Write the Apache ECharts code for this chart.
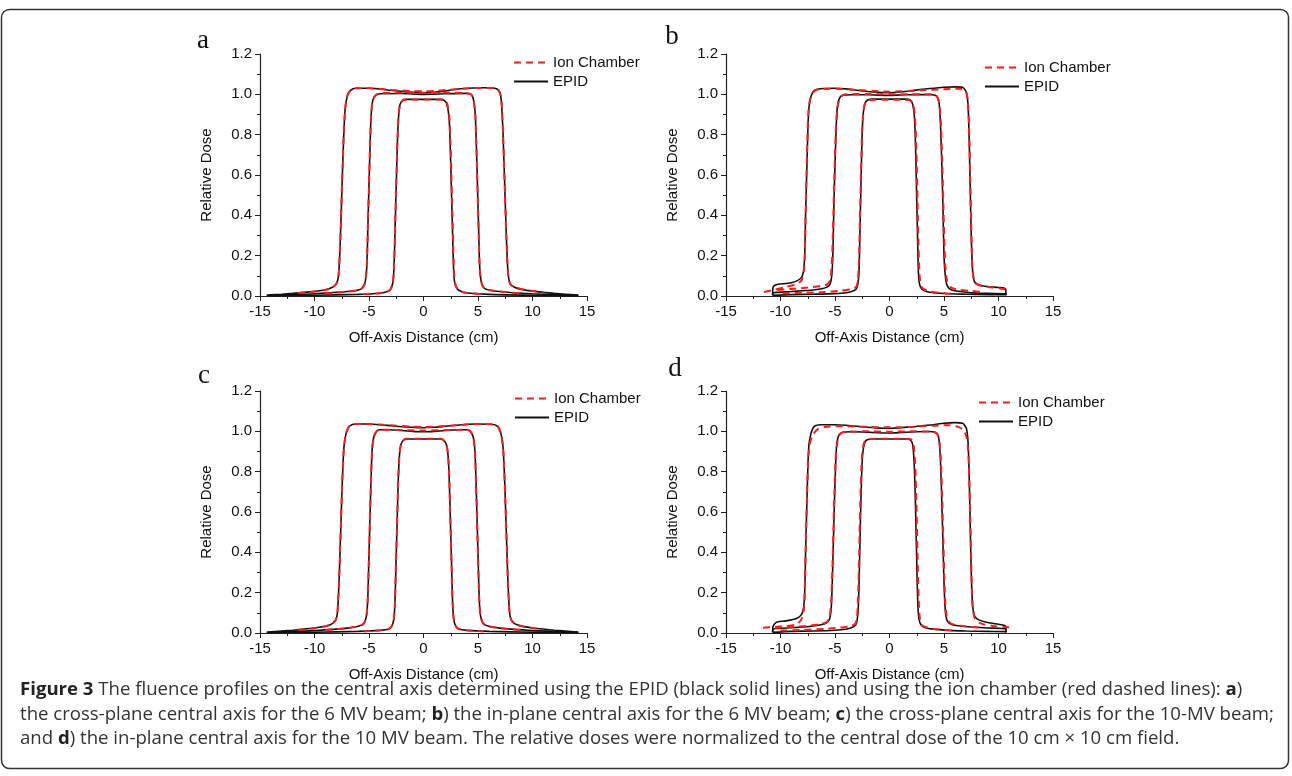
<!DOCTYPE html>
<html>
<head>
<meta charset="utf-8">
<title>Figure 3 fluence profiles</title>
<script src="https://cdn.jsdelivr.net/npm/echarts@6/dist/echarts.min.js"></script>
<style>
  html, body { margin: 0; padding: 0; background: #fff; }
  #main { width: 1292px; height: 776px; }
</style>
</head>
<body>
<div id="main"></div>
<script>
// axis ticks (same for all four panels)
var xTicks = [-15, -10, -5, 0, 5, 10, 15]
var yTicks = [0.0, 0.2, 0.4, 0.6, 0.8, 1.0, 1.2]
var panelNames = ['a', 'b', 'c', 'd']
var legendNames = ['Ion Chamber', 'EPID']

// ---- panel a : cross-plane, 6 MV ----
var aEpid15 = [[-14.4,0.004],[-13,0.009],[-12,0.013],[-11,0.018],[-10,0.023],[-9,0.031],[-8.4,0.042],[-8.0,0.06],[-7.8,0.1],[-7.65,0.25],[-7.5,0.5],[-7.35,0.75],[-7.2,0.92],[-7.0,0.99],[-6.7,1.02],[-6.2,1.03],[-5,1.03],[-4,1.027],[-3,1.02],[-2,1.015],[-1,1.01],[0,1.008],[1,1.01],[2,1.017],[3,1.025],[4,1.03],[5,1.033],[6,1.033],[6.7,1.028],[7.0,1.01],[7.15,0.96],[7.3,0.8],[7.45,0.55],[7.6,0.3],[7.75,0.12],[7.95,0.06],[8.4,0.042],[9,0.033],[10,0.024],[11,0.018],[12,0.013],[13,0.009],[14.2,0.004]]
var aEpid10 = [[-14.3,0.003],[-12,0.007],[-10,0.011],[-8,0.018],[-7,0.022],[-6,0.03],[-5.6,0.04],[-5.35,0.07],[-5.2,0.15],[-5.1,0.35],[-5.0,0.55],[-4.9,0.75],[-4.8,0.9],[-4.65,0.97],[-4.4,0.995],[-4,1.003],[-2,1.004],[0,1.0],[2,1.003],[4,1.005],[4.4,0.998],[4.6,0.97],[4.75,0.9],[4.85,0.75],[4.95,0.55],[5.05,0.35],[5.15,0.15],[5.3,0.07],[5.55,0.04],[6,0.03],[7,0.022],[8,0.017],[10,0.011],[12,0.007],[14.2,0.003]]
var aEpid5 = [[-14.2,0.002],[-10,0.004],[-6,0.008],[-4,0.014],[-3.3,0.022],[-3.0,0.035],[-2.8,0.07],[-2.7,0.15],[-2.6,0.35],[-2.5,0.55],[-2.4,0.75],[-2.3,0.88],[-2.15,0.95],[-1.9,0.97],[-1.5,0.975],[0,0.975],[1.5,0.975],[1.9,0.97],[2.15,0.95],[2.35,0.88],[2.45,0.75],[2.55,0.55],[2.65,0.35],[2.75,0.15],[2.85,0.07],[3.1,0.035],[3.5,0.022],[4,0.015],[6,0.008],[10,0.004],[14.2,0.002]]
var aIon15 = [[-11.5,0.015],[-10,0.022],[-9,0.03],[-8.4,0.04],[-8.0,0.06],[-7.8,0.1],[-7.65,0.25],[-7.5,0.5],[-7.35,0.75],[-7.2,0.92],[-7.0,0.99],[-6.7,1.02],[-6.2,1.03],[-5,1.03],[-3,1.022],[-1,1.016],[0,1.015],[1,1.017],[3,1.025],[5,1.032],[6.3,1.032],[6.8,1.025],[7.05,1.0],[7.18,0.95],[7.3,0.8],[7.45,0.55],[7.6,0.3],[7.75,0.12],[7.95,0.06],[8.4,0.042],[9,0.034],[10,0.026],[11,0.02]]
var aIon10 = [[-9,0.012],[-8,0.016],[-7,0.021],[-6,0.029],[-5.6,0.04],[-5.35,0.07],[-5.2,0.15],[-5.1,0.35],[-5.0,0.55],[-4.9,0.75],[-4.8,0.9],[-4.65,0.97],[-4.4,0.995],[-4,1.005],[-2,1.008],[0,1.008],[2,1.008],[4,1.005],[4.4,0.998],[4.6,0.97],[4.75,0.9],[4.85,0.75],[4.95,0.55],[5.05,0.35],[5.15,0.15],[5.3,0.07],[5.55,0.04],[6,0.03],[7,0.022],[8,0.017],[9,0.013]]
var aIon5 = [[-5.5,0.009],[-4,0.014],[-3.3,0.022],[-3.0,0.035],[-2.8,0.07],[-2.7,0.15],[-2.6,0.35],[-2.5,0.55],[-2.4,0.75],[-2.3,0.88],[-2.15,0.95],[-1.9,0.97],[-1.8,0.975],[0,0.975],[1.8,0.975],[2.0,0.97],[2.2,0.95],[2.38,0.88],[2.48,0.75],[2.58,0.55],[2.68,0.35],[2.78,0.15],[2.88,0.07],[3.1,0.035],[3.5,0.022],[4,0.015],[5.5,0.009]]

// ---- panel b : in-plane, 6 MV ----
var bEpid15 = [[-10.72,0.004],[-10.7,0.04],[-10.55,0.052],[-10.2,0.058],[-9.5,0.062],[-9,0.066],[-8.5,0.075],[-8.1,0.09],[-7.9,0.12],[-7.78,0.2],[-7.7,0.4],[-7.6,0.6],[-7.5,0.8],[-7.4,0.93],[-7.2,0.99],[-6.9,1.02],[-6.3,1.028],[-5,1.03],[-4,1.027],[-3,1.02],[-2,1.014],[-1,1.01],[0,1.008],[1,1.012],[2,1.018],[3,1.025],[4,1.03],[5,1.035],[6,1.037],[6.7,1.035],[7.05,1.01],[7.2,0.95],[7.3,0.8],[7.4,0.55],[7.5,0.3],[7.62,0.13],[7.8,0.07],[8.2,0.055],[9,0.047],[10,0.042],[10.5,0.04],[10.66,0.035],[10.68,0.004]]
var bEpid10 = [[-10.72,0.004],[-10.7,0.014],[-10.4,0.018],[-9,0.022],[-8,0.026],[-7,0.03],[-6.2,0.036],[-5.7,0.045],[-5.45,0.06],[-5.3,0.1],[-5.2,0.2],[-5.1,0.45],[-5.0,0.65],[-4.9,0.82],[-4.8,0.93],[-4.6,0.98],[-4.3,0.995],[-3.5,0.998],[-2,0.998],[-1,0.996],[0,0.995],[1,0.997],[2,0.998],[3.5,0.999],[4.2,0.996],[4.45,0.98],[4.6,0.93],[4.7,0.82],[4.8,0.65],[4.9,0.45],[5.0,0.2],[5.12,0.1],[5.3,0.05],[5.7,0.03],[6.5,0.022],[7.5,0.016],[9,0.013],[10.66,0.011],[10.68,0.004]]
var bEpid5 = [[-10.72,0.003],[-10.7,0.006],[-9,0.007],[-7,0.009],[-5,0.012],[-4,0.016],[-3.4,0.024],[-3.05,0.035],[-2.9,0.06],[-2.8,0.12],[-2.72,0.3],[-2.62,0.55],[-2.52,0.78],[-2.42,0.9],[-2.25,0.955],[-2,0.972],[-1.5,0.976],[0,0.976],[1.5,0.976],[1.9,0.972],[2.1,0.955],[2.27,0.9],[2.37,0.78],[2.47,0.55],[2.57,0.3],[2.65,0.12],[2.75,0.06],[2.95,0.035],[3.4,0.022],[4,0.016],[5.5,0.011],[7,0.009],[9,0.007],[10.66,0.006],[10.68,0.003]]
var bIon15 = [[-11.5,0.02],[-10.5,0.032],[-9.5,0.045],[-8.6,0.058],[-8.1,0.075],[-7.85,0.12],[-7.75,0.25],[-7.65,0.5],[-7.55,0.75],[-7.45,0.9],[-7.3,0.97],[-7,1.01],[-6.5,1.025],[-5,1.028],[-3,1.022],[-1,1.015],[0,1.013],[1,1.015],[3,1.02],[5,1.025],[6.5,1.028],[7.0,1.015],[7.2,0.96],[7.32,0.8],[7.42,0.55],[7.52,0.3],[7.62,0.13],[7.85,0.065],[8.5,0.05],[9.5,0.042],[10.5,0.035],[10.9,0.03]]
var bIon10 = [[-10.3,0.03],[-9,0.035],[-7.5,0.042],[-6.3,0.05],[-5.7,0.058],[-5.45,0.08],[-5.3,0.15],[-5.2,0.3],[-5.1,0.5],[-5.0,0.7],[-4.9,0.85],[-4.75,0.94],[-4.5,0.985],[-4,1.0],[-2,1.002],[0,1.0],[2,1.0],[4,1.0],[4.4,0.985],[4.6,0.94],[4.72,0.85],[4.82,0.7],[4.92,0.5],[5.02,0.3],[5.12,0.15],[5.3,0.07],[5.7,0.04],[6.5,0.03],[7.5,0.025],[8.5,0.02]]
var bIon5 = [[-9.8,0.013],[-8,0.016],[-6,0.02],[-4.5,0.026],[-3.5,0.034],[-3.05,0.045],[-2.9,0.08],[-2.8,0.18],[-2.7,0.4],[-2.6,0.65],[-2.5,0.83],[-2.38,0.92],[-2.2,0.96],[-1.8,0.972],[0,0.973],[1.8,0.972],[2.1,0.958],[2.28,0.92],[2.4,0.83],[2.5,0.65],[2.6,0.4],[2.7,0.18],[2.8,0.08],[3,0.04],[3.5,0.025],[4.5,0.016],[6,0.01]]

// ---- panel c : cross-plane, 10 MV ----
var cEpid15 = [[-14.4,0.004],[-13,0.01],[-12,0.014],[-11,0.019],[-10,0.025],[-9,0.033],[-8.4,0.045],[-8.05,0.065],[-7.9,0.1],[-7.75,0.25],[-7.6,0.5],[-7.45,0.75],[-7.3,0.92],[-7.1,0.99],[-6.8,1.025],[-6.2,1.036],[-5,1.036],[-4,1.033],[-3,1.028],[-2,1.023],[-1,1.02],[0,1.018],[1,1.02],[2,1.025],[3,1.03],[4,1.035],[5,1.036],[6.2,1.035],[6.8,1.025],[7.1,0.99],[7.3,0.92],[7.45,0.75],[7.6,0.5],[7.75,0.25],[7.9,0.1],[8.05,0.065],[8.4,0.045],[9,0.034],[10,0.025],[11,0.019],[12,0.014],[13,0.01],[14.2,0.004]]
var cEpid10 = [[-14.3,0.003],[-12,0.008],[-10,0.012],[-8,0.019],[-7,0.024],[-6,0.033],[-5.5,0.046],[-5.25,0.08],[-5.12,0.16],[-5.02,0.35],[-4.92,0.55],[-4.82,0.75],[-4.72,0.9],[-4.57,0.97],[-4.3,1.0],[-4,1.008],[-3,1.008],[-2,1.004],[-1,1.0],[0,0.998],[1,1.0],[2,1.004],[3,1.008],[4,1.008],[4.3,1.0],[4.57,0.97],[4.72,0.9],[4.82,0.75],[4.92,0.55],[5.02,0.35],[5.12,0.16],[5.25,0.08],[5.5,0.046],[6,0.033],[7,0.024],[8,0.019],[10,0.012],[12,0.008],[14.2,0.003]]
var cEpid5 = [[-14.2,0.002],[-10,0.004],[-6,0.008],[-4,0.013],[-3.2,0.02],[-2.9,0.035],[-2.72,0.07],[-2.62,0.15],[-2.52,0.35],[-2.42,0.55],[-2.32,0.75],[-2.22,0.87],[-2.07,0.935],[-1.8,0.958],[-1.4,0.962],[0,0.962],[1.4,0.962],[1.8,0.958],[2.1,0.935],[2.27,0.87],[2.37,0.75],[2.47,0.55],[2.57,0.35],[2.67,0.15],[2.77,0.07],[2.95,0.035],[3.25,0.02],[4,0.013],[6,0.008],[10,0.004],[14.2,0.002]]
var cIon15 = [[-11.5,0.016],[-10,0.024],[-9,0.033],[-8.4,0.045],[-8.05,0.065],[-7.9,0.1],[-7.75,0.25],[-7.6,0.5],[-7.45,0.75],[-7.3,0.92],[-7.1,0.99],[-6.8,1.025],[-6.2,1.036],[-5,1.036],[-3,1.03],[-1,1.023],[0,1.022],[1,1.023],[3,1.03],[5,1.036],[6.2,1.035],[6.8,1.025],[7.1,0.99],[7.3,0.92],[7.45,0.75],[7.6,0.5],[7.75,0.25],[7.9,0.1],[8.05,0.065],[8.4,0.045],[9,0.034],[10,0.025],[11,0.02]]
var cIon10 = [[-9,0.015],[-8,0.019],[-7,0.024],[-6,0.033],[-5.5,0.046],[-5.25,0.08],[-5.12,0.16],[-5.02,0.35],[-4.92,0.55],[-4.82,0.75],[-4.72,0.9],[-4.57,0.97],[-4.3,1.0],[-4,1.008],[-2,1.006],[0,1.004],[2,1.006],[4,1.008],[4.3,1.0],[4.57,0.97],[4.72,0.9],[4.82,0.75],[4.92,0.55],[5.02,0.35],[5.12,0.16],[5.25,0.08],[5.5,0.046],[6,0.033],[7,0.024],[8,0.019],[9,0.015]]
var cIon5 = [[-5.5,0.008],[-4,0.013],[-3.2,0.02],[-2.9,0.035],[-2.72,0.07],[-2.62,0.15],[-2.52,0.35],[-2.42,0.55],[-2.32,0.75],[-2.22,0.87],[-2.07,0.935],[-1.8,0.958],[-1.6,0.963],[0,0.963],[1.6,0.963],[1.8,0.958],[2.1,0.935],[2.27,0.87],[2.37,0.75],[2.47,0.55],[2.57,0.35],[2.67,0.15],[2.77,0.07],[2.95,0.035],[3.25,0.02],[4,0.013],[5.5,0.008]]

// ---- panel d : in-plane, 10 MV ----
var dEpid15 = [[-10.72,0.004],[-10.7,0.03],[-10.55,0.045],[-10.3,0.055],[-9.5,0.06],[-9,0.065],[-8.5,0.073],[-8.1,0.09],[-7.9,0.12],[-7.78,0.2],[-7.7,0.4],[-7.6,0.6],[-7.5,0.8],[-7.4,0.93],[-7.2,0.99],[-6.9,1.025],[-6.3,1.033],[-5,1.033],[-4,1.03],[-3,1.025],[-2,1.02],[-1,1.016],[0,1.015],[1,1.018],[2,1.022],[3,1.028],[4,1.033],[5,1.04],[6,1.043],[6.7,1.04],[7.05,1.015],[7.2,0.95],[7.3,0.8],[7.4,0.55],[7.5,0.3],[7.62,0.14],[7.8,0.085],[8.2,0.065],[9,0.052],[10,0.043],[10.5,0.038],[10.66,0.032],[10.68,0.004]]
var dEpid10 = [[-10.72,0.004],[-10.7,0.018],[-10.4,0.022],[-9,0.026],[-8,0.03],[-7,0.035],[-6.2,0.042],[-5.75,0.052],[-5.5,0.07],[-5.35,0.12],[-5.25,0.25],[-5.15,0.45],[-5.05,0.65],[-4.95,0.82],[-4.85,0.93],[-4.65,0.98],[-4.3,0.995],[-3.5,0.998],[-2,0.996],[-1,0.993],[0,0.992],[1,0.994],[2,0.997],[3.5,0.999],[4.2,0.996],[4.45,0.98],[4.6,0.93],[4.7,0.82],[4.8,0.65],[4.9,0.45],[5.0,0.25],[5.12,0.11],[5.3,0.06],[5.7,0.042],[6.5,0.035],[7.5,0.03],[9,0.025],[10.66,0.02],[10.68,0.004]]
var dEpid5 = [[-10.72,0.003],[-10.7,0.006],[-9,0.008],[-7,0.01],[-5,0.014],[-4,0.019],[-3.5,0.026],[-3.1,0.04],[-2.95,0.07],[-2.85,0.14],[-2.77,0.3],[-2.67,0.55],[-2.57,0.76],[-2.47,0.88],[-2.3,0.94],[-2.05,0.958],[-1.5,0.962],[0,0.962],[1.5,0.962],[1.9,0.958],[2.1,0.94],[2.22,0.88],[2.32,0.76],[2.42,0.55],[2.52,0.3],[2.6,0.14],[2.7,0.07],[2.9,0.04],[3.3,0.026],[4,0.019],[5.5,0.013],[7,0.01],[9,0.008],[10.66,0.007],[10.68,0.003]]
var dIon15 = [[-11.6,0.026],[-10.5,0.03],[-9.5,0.034],[-8.6,0.042],[-8.1,0.065],[-7.85,0.12],[-7.75,0.25],[-7.65,0.5],[-7.55,0.72],[-7.45,0.86],[-7.3,0.94],[-7.0,0.985],[-6.6,1.01],[-6,1.022],[-4,1.025],[-2,1.022],[0,1.02],[2,1.022],[4,1.028],[5.5,1.03],[6.3,1.022],[6.8,1.005],[7.05,0.975],[7.2,0.92],[7.3,0.8],[7.42,0.55],[7.52,0.3],[7.62,0.14],[7.85,0.07],[8.5,0.045],[9.5,0.035],[10.5,0.03],[11.3,0.026]]
var dIon10 = [[-10.5,0.025],[-9,0.03],[-7.5,0.036],[-6.3,0.045],[-5.75,0.055],[-5.5,0.08],[-5.35,0.15],[-5.25,0.3],[-5.15,0.5],[-5.05,0.7],[-4.95,0.85],[-4.8,0.94],[-4.55,0.985],[-4,0.998],[-2,1.0],[0,0.998],[2,1.0],[4,0.998],[4.4,0.985],[4.6,0.94],[4.72,0.85],[4.82,0.7],[4.92,0.5],[5.02,0.3],[5.12,0.15],[5.3,0.07],[5.7,0.045],[6.5,0.036],[7.5,0.03],[8.5,0.026]]
var dIon5 = [[-10,0.012],[-8,0.015],[-6,0.02],[-4.5,0.027],[-3.6,0.034],[-3.15,0.045],[-2.98,0.08],[-2.88,0.18],[-2.78,0.4],[-2.68,0.65],[-2.58,0.82],[-2.46,0.91],[-2.28,0.95],[-1.9,0.962],[0,0.963],[1.9,0.962],[2.12,0.95],[2.27,0.91],[2.37,0.82],[2.47,0.65],[2.57,0.4],[2.67,0.18],[2.77,0.08],[2.95,0.04],[3.5,0.026],[4.5,0.017],[6,0.012]]

// caption lines
var captionLines = [
    '{b|Figure 3} The fluence profiles on the central axis determined using the EPID (black solid lines) and using the ion chamber (red dashed lines): {b|a})',
    'the cross-plane central axis for the 6 MV beam; {b|b}) the in-plane central axis for the 6 MV beam; {b|c}) the cross-plane central axis for the 10-MV beam;',
    'and {b|d}) the in-plane central axis for the 10 MV beam. The relative doses were normalized to the central dose of the 10 cm \u00d7 10 cm field.'
]

var panels = [
    {epid: [aEpid15, aEpid10, aEpid5], ion: [aIon15, aIon10, aIon5]},
    {epid: [bEpid15, bEpid10, bEpid5], ion: [bIon15, bIon10, bIon5]},
    {epid: [cEpid15, cEpid10, cEpid5], ion: [cIon15, cIon10, cIon5]},
    {epid: [dEpid15, dEpid10, dEpid5], ion: [dIon15, dIon10, dIon5]}
]

// layout
var grids = [
    {left: 260, top: 54, width: 327, height: 242},
    {left: 726, top: 54, width: 327, height: 242},
    {left: 260, top: 391, width: 327, height: 242},
    {left: 726, top: 391, width: 327, height: 242}
]
var legendPos = [[508, 50], [979, 55], [509, 386], [973, 390]]
var letterPos = [[203, 41], [672, 37], [204, 376], [675, 369]]

var sans = "'Liberation Sans', Arial, sans-serif"
var axisColor = '#222'
var fs = 15

var chart = echarts.init(document.getElementById('main'))

var xAxes = [], yAxes = [], series = [], legends = [], graphics = []

grids.forEach(function (g, i) {
    xAxes.push({
        type: 'value', gridIndex: i,
        min: xTicks[0], max: xTicks[xTicks.length - 1], interval: 5,
        name: 'Off-Axis Distance (cm)', nameLocation: 'middle', nameGap: 34,
        nameTextStyle: {fontFamily: sans, fontSize: fs, color: '#111'},
        axisLine: {onZero: false, lineStyle: {color: axisColor, width: 1.2}},
        axisTick: {length: 5, lineStyle: {color: axisColor}},
        minorTick: {show: true, splitNumber: 2, length: 3, lineStyle: {color: axisColor}},
        splitLine: {show: false},
        axisLabel: {fontFamily: sans, fontSize: fs, color: '#111', margin: 8}
    })
    yAxes.push({
        type: 'value', gridIndex: i,
        min: yTicks[0], max: yTicks[yTicks.length - 1], interval: 0.2,
        name: 'Relative Dose', nameLocation: 'middle', nameGap: 46,
        nameTextStyle: {fontFamily: sans, fontSize: fs, color: '#111'},
        axisLine: {show: true, onZero: false, lineStyle: {color: axisColor, width: 1.2}},
        axisTick: {show: true, length: 5, lineStyle: {color: axisColor}},
        minorTick: {show: true, splitNumber: 2, length: 3, lineStyle: {color: axisColor}},
        splitLine: {show: false},
        axisLabel: {fontFamily: sans, fontSize: fs, color: '#111', margin: 8,
            formatter: function (v) { return v.toFixed(1) }}
    })
    panels[i].epid.forEach(function (d) {
        series.push({
            name: 'EPID', type: 'line', xAxisIndex: i, yAxisIndex: i,
            data: d, symbol: 'none', smooth: 0.25, z: 2,
            lineStyle: {color: '#111', width: 1.6}, itemStyle: {color: '#111'}
        })
    })
    panels[i].ion.forEach(function (d) {
        series.push({
            name: 'Ion Chamber', type: 'line', xAxisIndex: i, yAxisIndex: i,
            data: d, symbol: 'none', smooth: 0.25, z: 3,
            lineStyle: {color: '#ff1a1a', width: 2, type: [7, 5]}, itemStyle: {color: '#ff1a1a'}
        })
    })
    legends.push({
        data: legendNames, orient: 'vertical',
        left: legendPos[i][0], top: legendPos[i][1],
        itemWidth: 34, itemHeight: 12, itemGap: 4,
        itemStyle: {opacity: 0},
        textStyle: {fontFamily: sans, fontSize: fs, color: '#111'}
    })
    graphics.push({
        type: 'text', x: letterPos[i][0], y: letterPos[i][1],
        style: {text: panelNames[i], font: "27px 'Liberation Serif', 'Times New Roman', serif",
            fill: '#111', textAlign: 'center', textVerticalAlign: 'middle'}
    })
})

// frame around the whole figure
graphics.push({
    type: 'rect', x: 0, y: 0, silent: true,
    shape: {x: 1.5, y: 9.5, width: 1287, height: 759, r: 8},
    style: {fill: null, stroke: '#333', lineWidth: 1.5}
})
// caption
var capY = [690, 715, 739]
captionLines.forEach(function (t, k) {
    graphics.push({
        type: 'text', x: 20, y: capY[k],
        style: {
            text: t, fill: '#333', textVerticalAlign: 'middle',
            font: "18.6px 'Open Sans', sans-serif",
            rich: {b: {fontWeight: 'bold', fontFamily: 'Open Sans', fontSize: 18.6, fill: '#222'}}
        }
    })
})

var option = {
    backgroundColor: '#fff',
    animation: false,
    grid: grids,
    xAxis: xAxes,
    yAxis: yAxes,
    legend: legends,
    series: series,
    graphic: graphics
}
chart.setOption(option)
</script>
</body>
</html>
